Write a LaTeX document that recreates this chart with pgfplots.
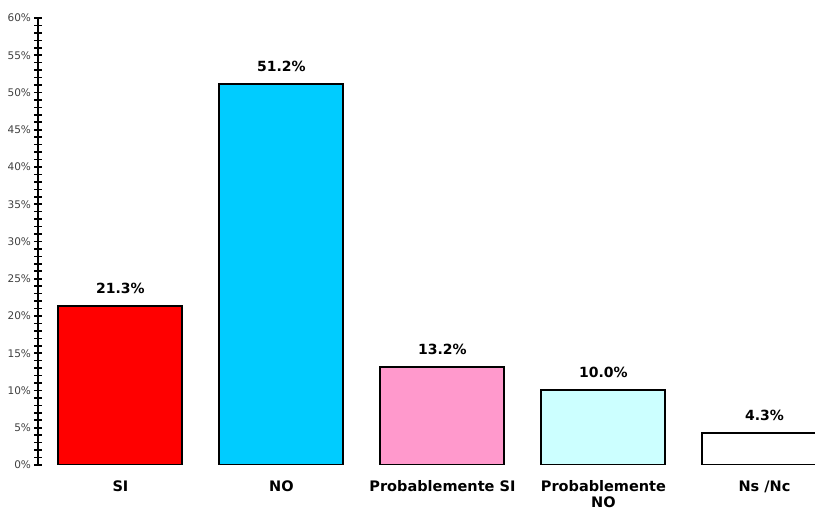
\documentclass[border=0pt]{standalone}
\usepackage{fontspec}
\setmainfont{DejaVu Sans}
\usepackage{pgfplots}
\pgfplotsset{compat=1.18}
\definecolor{cRed}{HTML}{FF0000}
\definecolor{cCyan}{HTML}{00CCFF}
\definecolor{cPink}{HTML}{FF99CC}
\definecolor{cLCyan}{HTML}{CCFFFF}
\begin{document}
\begin{tikzpicture}
\path[use as bounding box] (-38pt,-48pt) rectangle (777pt,465pt);
\begin{axis}[
  at={(0pt,0pt)}, anchor=south west,
  scale only axis, width=777pt, height=447pt,
  xmin=-0.512, xmax=4.314, ymin=0, ymax=60,
  axis lines=left, axis line style={-, line width=2.5pt},
  x axis line style={draw=none},
  ybar, bar width=0.77, bar shift=0pt,
  xtick={0,1,2,3,4},
  xticklabels={SI,NO,Probablemente SI,{Probablemente\\NO},Ns /Nc},
  xticklabel style={font=\bfseries\fontsize{14.5}{15.5}\selectfont, align=center, anchor=north, yshift=-11pt, inner sep=1pt},
  major x tick style={draw=none},
  ytick={0,5,...,60},
  minor y tick num=4,
  tick align=center,
  major tick length=7pt, minor tick length=7pt,
  y tick style={line width=1.6pt, black},
  yticklabel={\pgfmathprintnumber{\tick}\%},
  yticklabel style={font=\fontsize{10.5}{12}\selectfont, text=black!75, xshift=0pt},
  /pgf/number format/assume math mode=true,
  nodes near coords={\pgfmathprintnumber[fixed,fixed zerofill,precision=1]{\pgfplotspointmeta}\%},
  nodes near coords style={font=\bfseries\fontsize{14}{16}\selectfont, anchor=south, yshift=8pt},
  every axis plot/.append style={draw=black, line width=2pt},
]
\addplot[fill=cRed] coordinates {(0,21.3)};
\addplot[fill=cCyan] coordinates {(1,51.2)};
\addplot[fill=cPink] coordinates {(2,13.2)};
\addplot[fill=cLCyan] coordinates {(3,10.0)};
\addplot[fill=white] coordinates {(4,4.3)};
\end{axis}
\end{tikzpicture}
\end{document}
